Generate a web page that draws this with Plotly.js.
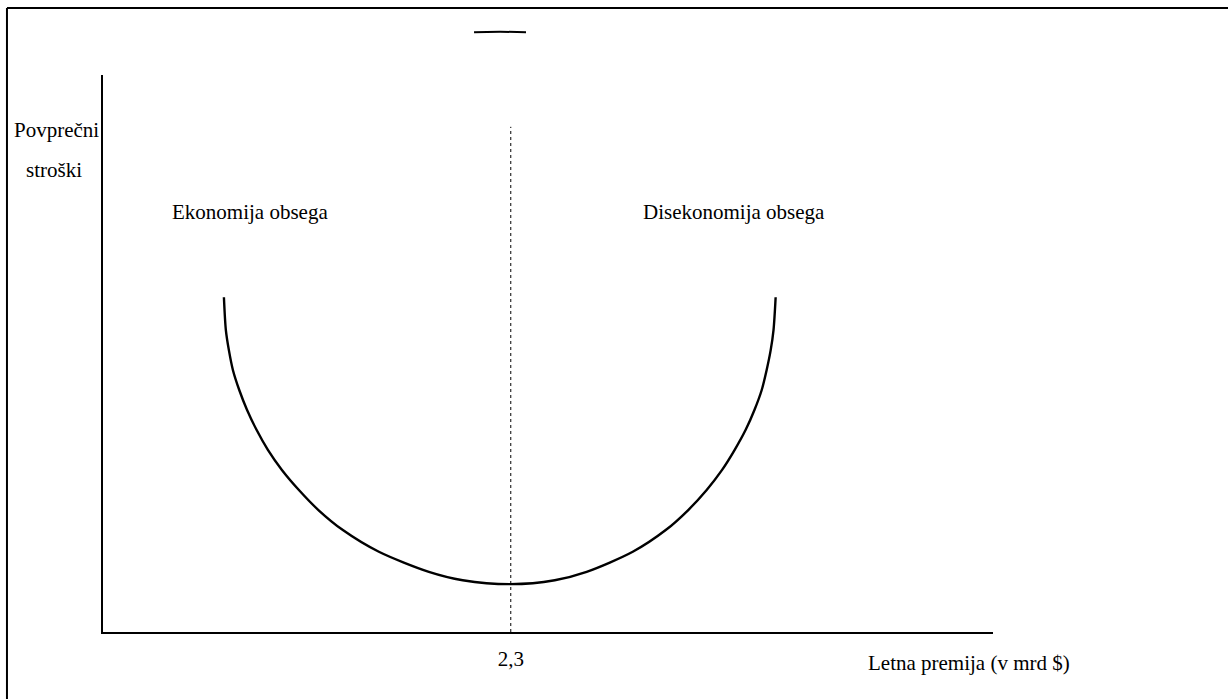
<!DOCTYPE html>
<html>
<head>
<meta charset="utf-8">
<script src="https://cdn.plot.ly/plotly-3.0.1.min.js"></script>
<style>
  html, body { margin: 0; padding: 0; background: #fff; }
  #chart { width: 1228px; height: 699px; }
</style>
</head>
<body>
<div id="chart"></div>
<script>
// Average cost curve (U shape) against annual premium volume, in bn $
const premium = [0.682, 0.693, 0.710, 0.733, 0.769, 0.812, 0.866, 0.930, 1.009, 1.105, 1.215,
                 1.353, 1.556, 1.838, 2.029, 2.3,
                 2.548, 2.728, 2.988, 3.174, 3.301, 3.405, 3.492, 3.563, 3.625, 3.675,
                 3.715, 3.743, 3.766, 3.782, 3.794];
const avgCost = [6.01, 5.42, 5.06, 4.70, 4.34, 3.99, 3.63, 3.27, 2.91, 2.55, 2.19,
                 1.83, 1.44, 1.08, 0.93, 0.86,
                 0.93, 1.08, 1.44, 1.83, 2.19, 2.55, 2.91, 3.27, 3.63, 3.99,
                 4.34, 4.70, 5.06, 5.42, 6.01];

// Scale minimum (optimal size) and height of the marker line
const optimumX = 2.3;
const optimumLabel = '2,3';
const dividerTop = 9.07;

// Text labels
const yTitleLines = ['Povprečni', 'stroški'];
const regionLabels = ['Ekonomija obsega', 'Disekonomija obsega'];
const xTitle = 'Letna premija (v mrd $)';

const FONT = 'Liberation Serif, Times New Roman, serif';

const traces = [
  {
    x: premium, y: avgCost, type: 'scatter', mode: 'lines',
    line: { color: '#000', width: 2.4, shape: 'spline', smoothing: 0.8 },
    hoverinfo: 'skip', showlegend: false
  },
  {
    x: [optimumX, optimumX], y: [0, dividerTop], type: 'scatter', mode: 'lines',
    line: { color: '#000', width: 1, dash: 'dot' },
    hoverinfo: 'skip', showlegend: false
  }
];

const txt = { family: FONT, size: 21, color: '#000' };
const ann = (x, y, ref, text) => ({
  x, y, xref: ref[0], yref: ref[1], text, showarrow: false, font: txt,
  xanchor: 'center', yanchor: 'middle'
});

const layout = {
  width: 1228, height: 699,
  margin: { l: 103, r: 235, t: 75, b: 67 },
  paper_bgcolor: '#fff', plot_bgcolor: '#fff',
  showlegend: false,
  font: { family: FONT, size: 21, color: '#000' },
  xaxis: {
    range: [0, 5.02], showgrid: false, zeroline: false,
    showline: true, linecolor: '#000', linewidth: 2,
    ticks: '', tickvals: [optimumX], ticktext: [optimumLabel],
    ticklabelstandoff: 7,
    tickfont: txt, fixedrange: true
  },
  yaxis: {
    range: [0, 10], showgrid: false, zeroline: false,
    showline: true, linecolor: '#000', linewidth: 2,
    ticks: '', showticklabels: false, fixedrange: true
  },
  annotations: [
    ann(-0.0517, 0.9013, ['paper', 'paper'], yTitleLines[0]),
    ann(-0.0551, 0.8294, ['paper', 'paper'], yTitleLines[1]),
    ann(0.829, 7.54, ['x', 'y'], regionLabels[0]),
    ann(3.557, 7.54, ['x', 'y'], regionLabels[1]),
    ann(0.973, -0.0557, ['paper', 'paper'], xTitle)
  ],
  shapes: [
    // outer frame: top and left edges
    { type: 'line', xref: 'paper', yref: 'paper', x0: -0.1079, x1: 1.265, y0: 1.1203, y1: 1.1203,
      line: { color: '#000', width: 2 } },
    { type: 'line', xref: 'paper', yref: 'paper', x0: -0.1079, x1: -0.1079, y0: 1.1203, y1: -0.13,
      line: { color: '#000', width: 2 } },
    // small arc segment above the plot
    { type: 'path', xref: 'paper', yref: 'paper',
      path: 'M 0.4169,1.0768 Q 0.4461,1.0782 0.4753,1.0768',
      line: { color: '#000', width: 2 } }
  ]
};

Plotly.newPlot('chart', traces, layout, { staticPlot: true, displayModeBar: false });
</script>
</body>
</html>
